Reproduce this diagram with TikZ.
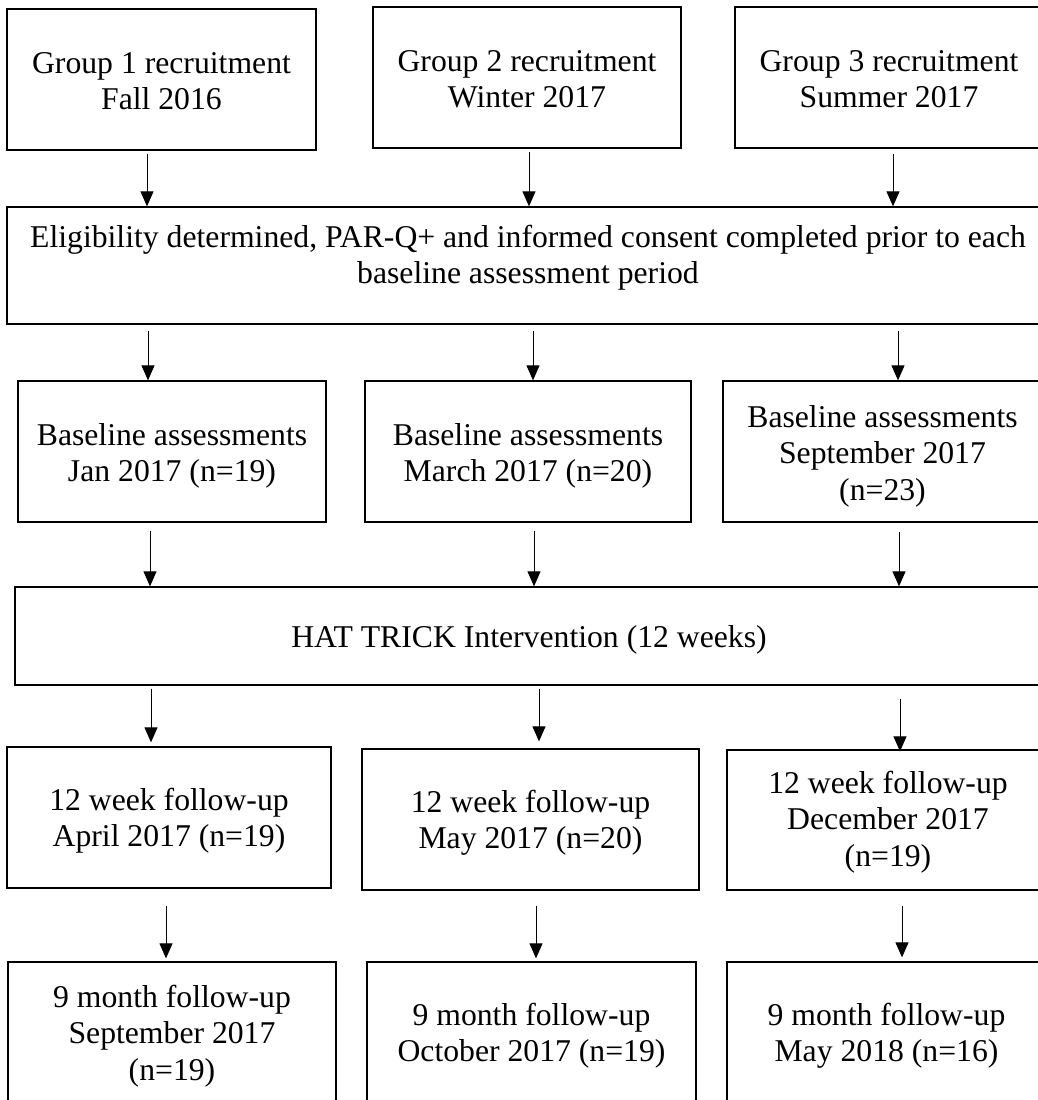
\documentclass[tikz,border=0pt]{standalone}
\usepackage{fontspec}
\setmainfont{Liberation Serif}
\usetikzlibrary{arrows.meta,fit}
\newcommand\mlines[1]{\vtop{\halign{\hfil##\hfil\cr#1\crcr}}}
\tikzset{
  box/.style={draw, line width=1.3pt, inner sep=0pt},
  txt/.style={anchor=base, inner sep=0pt, font=\fontsize{31.7pt}{36.5pt}\selectfont},
  arr/.style={line width=1pt, -{Triangle[length=15pt,width=13pt]}}
}
\begin{document}
\begin{tikzpicture}[x=1pt,y=-1pt]
\useasboundingbox (0,0) rectangle (1038,1100);
\clip (0,0) rectangle (1038,1100);
% boxes
\node[box, fit={(7,9) (316,150)}] (g1) {};
\node[box, fit={(373,7) (681,148)}] (g2) {};
\node[box, fit={(735,7) (1045,148)}] (g3) {};
\node[box, fit={(7,207) (1050,324)}] (elig) {};
\node[box, fit={(18,381) (326,522)}] (b1) {};
\node[box, fit={(365,381) (691,522)}] (b2) {};
\node[box, fit={(723,381) (1045,522)}] (b3) {};
\node[box, fit={(15,587) (1045,685)}] (hat) {};
\node[box, fit={(7,747) (331,888)}] (f1) {};
\node[box, fit={(362,749) (699,890)}] (f2) {};
\node[box, fit={(727,750) (1050,890)}] (f3) {};
\node[box, fit={(8,962) (336,1115)}] (n1) {};
\node[box, fit={(367,962) (696,1115)}] (n2) {};
\node[box, fit={(727,962) (1046,1115)}] (n3) {};
% texts
\node[txt] (g1t) at (161.5,73) {\mlines{Group 1 recruitment\cr Fall 2016}};
\node[txt] (g2t) at (527,71) {\mlines{Group 2 recruitment\cr Winter 2017}};
\node[txt] (g3t) at (889,71) {\mlines{Group 3 recruitment\cr Summer 2017}};
\node[txt] (eligt) at (528,247) {\mlines{Eligibility determined, PAR-Q+ and informed consent completed prior to each\cr baseline assessment period}};
\node[txt] (b1t) at (172,445) {\mlines{Baseline assessments\cr Jan 2017 (n=19)}};
\node[txt] (b2t) at (528,445) {\mlines{Baseline assessments\cr March 2017 (n=20)}};
\node[txt] (b3t) at (882.5,427) {\mlines{Baseline assessments\cr September 2017\cr (n=23)}};
\node[txt] (hatt) at (529,647) {HAT TRICK Intervention (12 weeks)};
\node[txt] (f1t) at (169,810) {\mlines{12 week follow-up\cr April 2017 (n=19)}};
\node[txt] (f2t) at (530.5,812) {\mlines{12 week follow-up\cr May 2017 (n=20)}};
\node[txt] (f3t) at (888,793) {\mlines{12 week follow-up\cr December 2017\cr (n=19)}};
\node[txt] (n1t) at (172,1007) {\mlines{9 month follow-up\cr September 2017\cr (n=19)}};
\node[txt] (n2t) at (531.5,1025) {\mlines{9 month follow-up\cr October 2017 (n=19)}};
\node[txt] (n3t) at (886.5,1025) {\mlines{9 month follow-up\cr May 2018 (n=16)}};
% arrows
\draw[arr, shorten <=3pt] (g1.south -| 147,0) -- (elig.north -| 147,0);
\draw[arr, shorten <=3pt] (g2.south -| 529,0) -- (elig.north -| 529,0);
\draw[arr, shorten <=5pt] (g3.south -| 893,0) -- (elig.north -| 893,0);
\draw[arr, shorten <=6pt] (elig.south -| 148,0) -- (b1.north -| 148,0);
\draw[arr, shorten <=6pt] (elig.south -| 533,0) -- (b2.north -| 533,0);
\draw[arr, shorten <=6pt] (elig.south -| 898,0) -- (b3.north -| 898,0);
\draw[arr, shorten <=8pt] (b1.south -| 150,0) -- (hat.north -| 150,0);
\draw[arr, shorten <=8pt] (b2.south -| 534,0) -- (hat.north -| 534,0);
\draw[arr, shorten <=9pt] (b3.south -| 899,0) -- (hat.north -| 899,0);
\draw[arr, shorten <=3pt, shorten >=4pt] (hat.south -| 151,0) -- (f1.north -| 151,0);
\draw[arr, shorten <=3pt, shorten >=7pt] (hat.south -| 539,0) -- (f2.north -| 539,0);
\draw[arr, shorten <=13pt, shorten >=-2pt] (hat.south -| 900,0) -- (f3.north -| 900,0);
\draw[arr, shorten <=17pt, shorten >=3pt] (f1.south -| 166,0) -- (n1.north -| 166,0);
\draw[arr, shorten <=15pt, shorten >=3pt] (f2.south -| 536,0) -- (n2.north -| 536,0);
\draw[arr, shorten <=15pt, shorten >=4pt] (f3.south -| 902,0) -- (n3.north -| 902,0);
\end{tikzpicture}
\end{document}
